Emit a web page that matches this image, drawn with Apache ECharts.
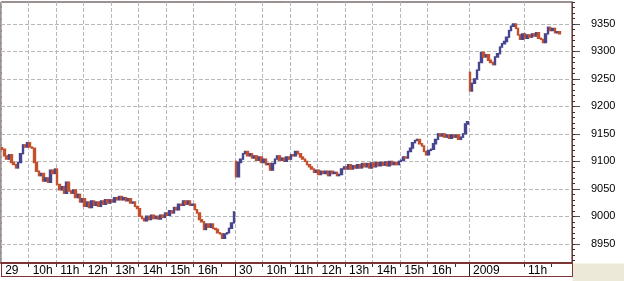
<!DOCTYPE html>
<html><head><meta charset="utf-8">
<script src="https://cdn.jsdelivr.net/npm/echarts@6/dist/echarts.min.js"></script>
<style>html,body{margin:0;padding:0;background:#fff}#c{width:624px;height:281px}</style>
</head><body><div id="c"></div>
<script>
// ---- data (5-minute bars) ----
const dayNames = ['29', '30', '2009'];
const dayEnds = ['17:30', '17:30', '12:45'];
const dayOpens = [9125, 9100, 9262];
const closesDay1 = [
 9122,9110,9104,9112,9098,9094,9088,9098,9114,9130,
 9126,9134,9126,9124,9098,9082,9074,9078,9064,9070,
 9062,9084,9078,9086,9058,9048,9054,9042,9062,9046,
 9042,9048,9034,9040,9026,9032,9018,9026,9016,9028,
 9020,9026,9018,9028,9022,9030,9024,9030,9026,9034,
 9030,9036,9030,9034,9028,9032,9024,9026,9018,9014,
 9000,8996,8992,9000,8994,9002,8996,9000,8995,9002,
 8998,9006,9002,9010,9006,9016,9012,9022,9020,9028,
 9022,9028,9020,9022,9012,9006,8994,8990,8976,8986,
 8980,8986,8978,8976,8970,8968,8960,8968,8970,8978,
 8988,9008];
const closesDay2 = [
 9072,9098,9104,9114,9118,9110,9114,9106,9110,9102,
 9108,9098,9104,9094,9096,9084,9096,9104,9110,9102,
 9106,9100,9108,9104,9112,9110,9118,9114,9108,9104,
 9100,9094,9090,9086,9080,9084,9076,9082,9078,9082,
 9074,9082,9078,9080,9074,9076,9086,9090,9086,9094,
 9086,9092,9088,9094,9088,9096,9090,9096,9088,9097,
 9090,9098,9092,9098,9093,9099,9092,9100,9094,9098,
 9094,9100,9102,9108,9106,9118,9124,9134,9138,9140,
 9132,9128,9118,9112,9120,9122,9132,9140,9150,9146,
 9150,9144,9148,9142,9148,9144,9148,9140,9144,9150,
 9168,9172];
const closesDay3 = [
 9228,9242,9250,9266,9280,9298,9290,9294,9284,9280,
 9276,9290,9296,9308,9314,9318,9326,9338,9346,9350,
 9342,9330,9322,9332,9324,9330,9326,9332,9328,9334,
 9324,9322,9316,9332,9344,9338,9342,9334,9336,9332];
const labeledTicks = [
 '29 09:00','29 10:00','29 11:00','29 12:00','29 13:00','29 14:00','29 15:00','29 16:00',
 '30 09:00','30 10:00','30 11:00','30 12:00','30 13:00','30 14:00','30 15:00','30 16:00',
 '2009 09:00','2009 11:00'];
const plainTicks = ['29 17:00', '30 17:00', '2009 12:00'];
const yLabelValues = [8950, 9000, 9050, 9100, 9150, 9200, 9250, 9300, 9350];
const yMinorValues = [];
for (let v = 8920; v <= 9390; v += 10) yMinorValues.push(v);

// ---- build categories and OHLC ----
const allCloses = [closesDay1, closesDay2, closesDay3];
const categories = [];
const ohlc = [];
dayNames.forEach((d, di) => {
  const [eh, em] = dayEnds[di].split(':').map(Number);
  const endMin = eh * 60 + em;
  let prev = dayOpens[di];
  let k = 0;
  for (let m = 9 * 60; m < endMin; m += 5, k++) {
    const hh = String(Math.floor(m / 60)).padStart(2, '0');
    const mm = String(m % 60).padStart(2, '0');
    categories.push(d + ' ' + hh + ':' + mm);
    const c = allCloses[di][k];
    if (c === undefined) { ohlc.push('-'); continue; }
    ohlc.push([prev, c, Math.min(prev, c), Math.max(prev, c)]);
    prev = c;
  }
});
const dayStarts = categories.filter(c => c.endsWith(' 09:00'));

const frame = '#7d3434';
const chart = echarts.init(document.getElementById('c'), null, {renderer: 'canvas'});
chart.setOption({
  animation: false,
  backgroundColor: '#ffffff',
  grid: {left: 1, right: 52, top: 2, bottom: 18, show: true, borderColor: '#3a2020', borderWidth: 1, backgroundColor: '#fff'},
  xAxis: [{
    type: 'category', data: categories, boundaryGap: true, position: 'bottom',
    axisLine: {show: true, lineStyle: {color: frame, width: 2}},
    axisTick: {show: true, length: 4, lineStyle: {color: '#333'},
      interval: (i, v) => labeledTicks.includes(v) || plainTicks.includes(v)},
    axisLabel: {show: true, interval: (i, v) => labeledTicks.includes(v),
      formatter: v => { const [d, t] = v.split(' '); return t === '09:00' ? d : parseInt(t, 10) + 'h'; },
      align: 'left', margin: 2, padding: [0, 0, 0, 3],
      color: '#000', fontFamily: 'Liberation Sans', fontSize: 12},
    splitLine: {show: true, interval: (i, v) => labeledTicks.includes(v),
      lineStyle: {color: '#b8b8b8', type: [4, 2], width: 1}}
  }, {
    type: 'category', data: categories, boundaryGap: true, position: 'bottom',
    axisLine: {show: false},
    axisTick: {show: true, length: 14, lineStyle: {color: '#222'},
      interval: (i, v) => dayStarts.includes(v)},
    axisLabel: {show: false}, splitLine: {show: false}
  }],
  yAxis: [{
    type: 'value', position: 'right', min: 8915, max: 9390, scale: true,
    axisLine: {show: true, lineStyle: {color: frame, width: 1}},
    axisTick: {show: true, length: 8, customValues: yLabelValues, lineStyle: {color: '#555'}},
    axisLabel: {show: true, customValues: yLabelValues, margin: 19, color: '#000',
      formatter: v => String(v), fontFamily: 'Liberation Sans', fontSize: 11},
    splitLine: {show: true, lineStyle: {color: '#b8b8b8', type: [4, 2], width: 1}}
  }, {
    type: 'value', position: 'right', min: 8915, max: 9390, scale: true,
    axisLine: {show: false},
    axisTick: {show: true, length: 3, customValues: yMinorValues, lineStyle: {color: '#333'}},
    axisLabel: {show: false}, splitLine: {show: false}
  }],
  series: [{
    type: 'candlestick', data: ohlc, xAxisIndex: 0, yAxisIndex: 0,
    barWidth: 2,
    itemStyle: {color: '#464690', color0: '#c4502c', borderColor: '#464690', borderColor0: '#c4502c', borderWidth: 1.4}
  }],
  graphic: [
    {type: 'rect', shape: {x: 572.5, y: 263.5, width: 52, height: 18}, style: {fill: '#ece9d8'}, z: 100},
    {type: 'rect', shape: {x: 1.5, y: 263.5, width: 571, height: 13}, style: {fill: 'none', stroke: frame, lineWidth: 1}, z: 100}
  ]
});
</script></body></html>
